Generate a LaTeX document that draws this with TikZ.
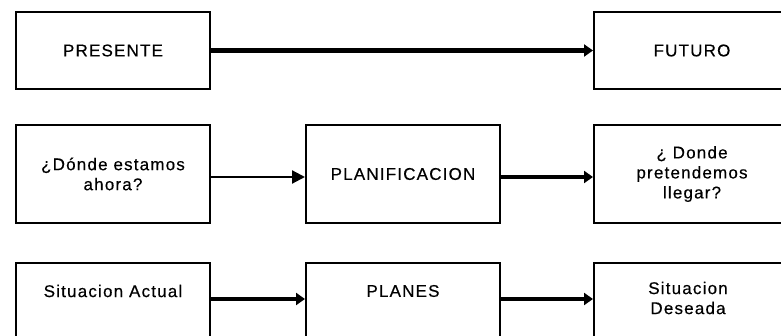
\documentclass[tikz,border=0pt]{standalone}
\usepackage{fontspec}
\setmainfont[LetterSpace=7,FakeBold=0.4]{Liberation Sans}
\usetikzlibrary{arrows.meta}
\begin{document}
\begin{tikzpicture}[x=1pt,y=-1pt,
  box/.style={draw, line width=2pt, rectangle, inner sep=0pt,
    font=\fontsize{17}{20}\selectfont, align=center},
  lbl/.style={font=\fontsize{17}{20}\selectfont, align=center, inner sep=0pt},
  bigarrow/.style={line width=4.4pt, -{Triangle[length=9pt,width=12pt]}},
  smallarrow/.style={line width=2.2pt, -{Triangle[length=13pt,width=13pt]}}]
\useasboundingbox (0,0) rectangle (781,336);
\clip (0,0) rectangle (781,336);
% row 1
\node[box, minimum width=194pt, minimum height=77pt] (P) at (113,50.5) {PRESENTE};
\node[box, minimum width=196pt, minimum height=77pt] (F) at (692,50.5) {FUTURO};
% row 2
\node[box, minimum width=194pt, minimum height=98pt] (L2) at (113,174) {¿Dónde estamos\\ahora?};
\node[box, minimum width=194pt, minimum height=98pt] (M2) at (403,174) {PLANIFICACION};
\node[box, minimum width=196pt, minimum height=98pt] (R2) at (692,174) {¿ Donde\\pretendemos\\llegar?};
% row 3
\node[box, minimum width=194pt, minimum height=98pt] (L3) at (113,312) {};
\node[box, minimum width=194pt, minimum height=98pt] (M3) at (403,312) {};
\node[box, minimum width=196pt, minimum height=98pt] (R3) at (692,312) {};
\node[lbl] (tL3) at (113,291) {Situacion Actual};
\node[lbl] (tM3) at (403,291) {PLANES};
\node[lbl] (tR3) at (688,298) {Situacion\\Deseada};
% arrows
\draw[bigarrow] (P.east) -- (F.west);
\draw[smallarrow] ([yshift=-3pt]L2.east) -- ([yshift=-3pt]M2.west);
\draw[bigarrow] ([yshift=-3pt]M2.east) -- ([yshift=-3pt]R2.west);
\draw[bigarrow] ([yshift=-37pt]L3.north east) -- ([yshift=-37pt]M3.north west);
\draw[bigarrow] ([yshift=-37pt]M3.north east) -- ([yshift=-37pt]R3.north west);
\end{tikzpicture}
\end{document}
